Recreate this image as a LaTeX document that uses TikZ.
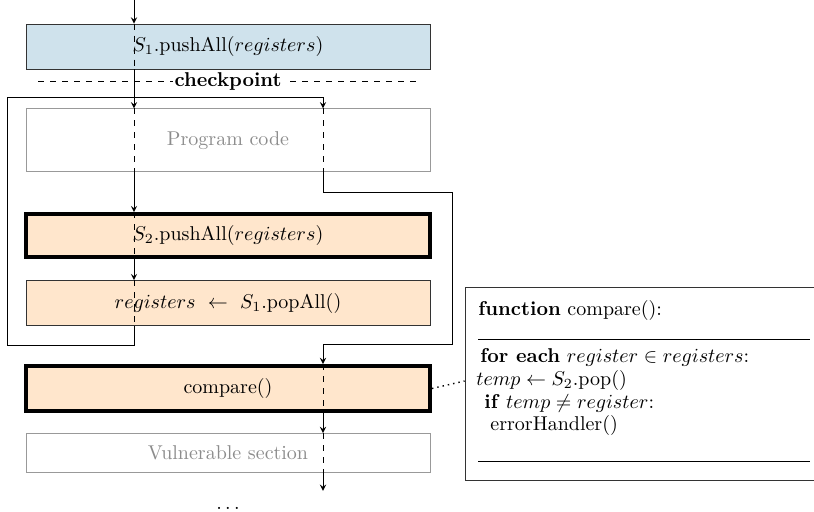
\documentclass[tikz,border=0pt]{standalone}
\usepackage{amssymb}
\usetikzlibrary{positioning, arrows}
\definecolor{stackblue}{RGB}{207,226,236}
\definecolor{checkorange}{RGB}{255,230,204}

\begin{document}
\begin{tikzpicture}
  [x=0.5pt,y=-0.5pt,>=stealth,
   op/.style={rectangle,draw=black!80,minimum width=202pt,inner sep=0pt},
   guard/.style={op,draw=black,line width=2pt,fill=checkorange},
   plain/.style={op,draw=black!40,text=black!45},
   flow/.style={->},
   inside/.style={dashed},
   codeline/.style={anchor=west,inner sep=0pt}]

\useasboundingbox (0,0) rectangle (814,511);
\clip (0,0) rectangle (814,511);

  \node[op,fill=stackblue,minimum height=22.5pt] (push1) at (228,46.5) {$S_1$.pushAll($registers$)};
  \node[plain,minimum height=31.5pt] (prog) [below=19.5pt of push1] {Program code};
  \node[guard,minimum height=21.5pt] (push2) [below=20pt of prog] {$S_2$.pushAll($registers$)};
  \node[op,fill=checkorange,minimum height=22.5pt] (pop1) [below=10.5pt of push2] {$registers\ \leftarrow\ S_1$.popAll()};
  \node[guard,minimum height=22.5pt] (cmp) [below=19pt of pop1] {compare()};
  \node[plain,minimum height=19.5pt] (vuln) [below=10pt of cmp] {Vulnerable section};
  \node (more) at (228,508) {$\ldots$};

\draw[dashed] (38,81) -- (418,81) node[midway,fill=white,inner sep=1pt,font=\bfseries] (ckpt) {checkpoint};

  \coordinate (lx) at (134,0);
  \coordinate (rx) at (323,0);

\draw[flow] (lx) -- (lx |- push1.north);
\draw[inside] (lx |- push1.north) -- (lx |- push1.south);
\draw[flow] (lx |- push1.south) -- (lx |- prog.north);
\draw[inside] (lx |- prog.north) -- (lx |- prog.south);
\draw[flow] (lx |- prog.south) -- (lx |- push2.north);
\draw[inside] (lx |- push2.north) -- (lx |- push2.south);
\draw[flow] (lx |- push2.south) -- (lx |- pop1.north);
\draw[inside] (lx |- pop1.north) -- (lx |- pop1.south);
\draw[flow] (lx |- pop1.south) -- ++(0,19) -| ++(-127,-248) -| (rx |- prog.north);

\draw[inside] (rx |- prog.north) -- (rx |- prog.south);
\draw[flow] (rx |- prog.south) -- ++(0,20) -| ++(129,152) -| (rx |- cmp.north);
\draw[inside] (rx |- cmp.north) -- (rx |- cmp.south);
\draw[flow] (rx |- cmp.south) -- (rx |- vuln.north);
\draw[inside] (rx |- vuln.north) -- (rx |- vuln.south);
\draw[flow] (rx |- vuln.south) -- ++(0,18);

  \node[draw=black!80,minimum width=180pt,minimum height=96.5pt] (code) at (645,383.5) {};
  \node[codeline] (fn) at (478,310) {\textbf{function} compare():};
  \node[codeline] (l1) at (480,357) {\textbf{for each} $register \in registers$:};
  \node[codeline] (l2) at (476,380) {$temp \leftarrow S_2$.pop()};
  \node[codeline] (l3) at (484,403) {\textbf{if} $temp \neq register$:};
  \node[codeline] (l4) at (490,425) {errorHandler()};
\draw (478,339) -- (810,339);
\draw (478,461) -- (810,461);

\draw[dotted,line width=0.7pt] (cmp.east) -- (code.west |- 0,381);

\end{tikzpicture}
\end{document}
